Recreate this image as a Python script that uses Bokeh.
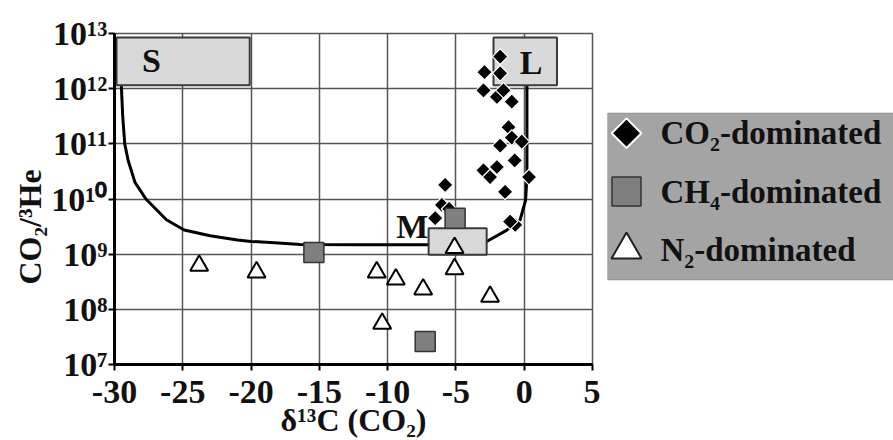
import numpy as np
from bokeh.plotting import figure
from bokeh.models import FixedTicker, Range1d, Title
from bokeh.layouts import row
from bokeh.core.properties import value
from bokeh.embed import file_html
from bokeh.resources import INLINE

FONT = "Liberation Serif"

# ---- axes ----
x_ticks = [-30, -25, -20, -15, -10, -5, 0, 5]
x_tick_labels = ["-30", "-25", "-20", "-15", "-10", "-5", "0", "5"]
y_ticks = [1e7, 1e8, 1e9, 1e10, 1e11, 1e12, 1e13]
y_tick_labels = ["10⁷", "10⁸", "10⁹", "10¹⁰", "10¹¹", "10¹²", "10¹³"]
x_title = "δ¹³C (CO₂)"
y_title = "CO₂/³He"

# ---- data (d13C of CO2, CO2/3He) ----
co2_d13c = [-1.76, -2.91, -1.76, -2.98, -2.0, -1.52, -0.91, -1.15, -0.91, -1.76, -0.18,
            -0.7, -2.98, -2.0, -2.5, 0.35, -1.4, -5.79, -6.03, -6.52, -5.5, -0.66, -1.03]
co2_ratio = [3.8e12, 2.0e12, 1.9e12, 9.3e11, 7.1e11, 9.3e11, 5.8e11, 2.0e11, 1.3e11, 9.3e10, 1.1e11,
             5.0e10, 3.3e10, 3.8e10, 2.5e10, 2.5e10, 1.35e10, 1.8e10, 7.8e9, 4.5e9, 6.6e9, 3.4e9, 3.9e9]

ch4_d13c = [-15.4, -5.06, -7.25]
ch4_ratio = [1.07e9, 4.5e9, 2.6e7]

n2_d13c = [-23.8, -19.6, -10.8, -9.4, -7.4, -5.1, -5.1, -2.5, -10.4]
n2_ratio = [6.2e8, 4.7e8, 4.7e8, 3.5e8, 2.3e8, 5.4e8, 1.3e9, 1.7e8, 5.5e7]

# mixing curves
curve_sm_d13c = [-29.5, -29.4, -29.25, -29.0, -28.5, -27.7, -26.2, -24.9, -23.0, -21.0, -20.0,
                 -18.0, -16.4, -12.0, -7.0]
curve_sm_ratio = [1.15e12, 3.2e11, 1.0e11, 5.0e10, 2.0e10, 1.0e10, 4.2e9, 2.75e9, 2.15e9, 1.8e9,
                  1.7e9, 1.6e9, 1.5e9, 1.48e9, 1.48e9]
curve_ml_d13c = [-2.75, -1.3, -0.3, 0.1, 0.2, 0.2]
curve_ml_ratio = [1.7e9, 2.7e9, 4.2e9, 9.5e9, 2.5e10, 1.15e12]

# end-member boxes
end_names = ["S", "M", "L"]
end_left = [-29.85, -7.0, -2.25]
end_right = [-20.1, -2.75, 2.4]
end_bottom = [1.15e12, 9.8e8, 1.15e12]
end_top = [8.5e12, 2.95e9, 8.5e12]
end_label_x = [-27.3, -8.2, 0.5]
end_label_y = [3.2e12, 3.2e9, 3.0e12]

legend_labels = ["CO₂-dominated", "CH₄-dominated", "N₂-dominated"]

# ---- main plot ----
BORDERS = dict(min_border_top=33, min_border_bottom=75)
p = figure(width=600, height=440, x_range=Range1d(-30, 5), y_range=Range1d(1e7, 1e13),
           y_axis_type="log", output_backend="svg", toolbar_location=None,
           min_border_left=114, min_border_right=8, **BORDERS)
p.background_fill_color = "white"
p.border_fill_color = "white"
p.outline_line_color = "#555555"
p.outline_line_width = 1.5

p.xaxis.ticker = FixedTicker(ticks=x_ticks)
p.xaxis.major_label_overrides = dict(zip(x_ticks, x_tick_labels))
p.yaxis.ticker = FixedTicker(ticks=y_ticks)
p.yaxis.major_label_overrides = dict(zip(y_ticks, y_tick_labels))
p.grid.grid_line_color = "#555555"
p.grid.grid_line_width = 1.5
for ax in (p.xaxis, p.yaxis):
    ax.axis_line_color = "black"
    ax.axis_line_width = 3
    ax.major_tick_line_color = "black"
    ax.major_tick_line_width = 2
    ax.major_tick_out = 6
    ax.major_tick_in = 0
    ax.minor_tick_out = 0
    ax.minor_tick_in = 0
    ax.major_label_text_font = FONT
    ax.major_label_text_font_style = "bold"
    ax.major_label_text_font_size = "34px"
    ax.major_label_text_color = "#111111"
p.xaxis.major_label_standoff = 10
p.yaxis.major_label_standoff = 1

p.xaxis.axis_label = x_title
p.xaxis.axis_label_text_font = FONT
p.xaxis.axis_label_text_font_style = "bold"
p.xaxis.axis_label_text_font_size = "32px"
p.xaxis.axis_label_text_color = "#111111"
p.xaxis.axis_label_standoff = -4

p.add_layout(Title(text=y_title, align="left", offset=80, standoff=2,
                   text_font=FONT, text_font_style="bold", text_font_size="32px",
                   text_color="#111111"), "left")

p.line(curve_sm_d13c, curve_sm_ratio, line_color="black", line_width=3)
p.line(curve_ml_d13c, curve_ml_ratio, line_color="black", line_width=3)
p.quad(left=end_left, right=end_right, bottom=end_bottom, top=end_top,
       fill_color="#d9d9d9", line_color="#3a3a3a", line_width=2)
p.text(x=end_label_x, y=end_label_y, text=end_names, text_font=value(FONT),
       text_font_style="bold", text_font_size="34px", text_align="center",
       text_baseline="middle", text_color="#111111")

p.scatter(co2_d13c, co2_ratio, marker="square", angle=np.pi / 4, size=11,
          fill_color="black", line_color="white", line_width=1.2)
p.scatter(ch4_d13c, ch4_ratio, marker="square", size=20,
          fill_color="#7f7f7f", line_color="#333333", line_width=1.5)
p.scatter(n2_d13c, n2_ratio, marker="triangle", size=18,
          fill_color="white", line_color="black", line_width=2)

# ---- legend panel ----
q = figure(width=293, height=440, x_range=Range1d(0, 286), y_range=Range1d(332, 0),
           output_backend="svg", toolbar_location=None, x_axis_location=None,
           y_axis_location=None, min_border_left=7, min_border_right=0, **BORDERS)
q.grid.visible = False
q.background_fill_color = "white"
q.border_fill_color = "white"
q.outline_line_color = None

q.quad(left=[0], right=[300], top=[80], bottom=[247],
       fill_color="#a4a4a4", line_color="#8a8a8a", line_width=1)
leg_y = [100 + 58.5 * i for i in range(len(legend_labels))]
q.scatter([19], [leg_y[0]], marker="square", angle=np.pi / 4, size=21,
          fill_color="black", line_color="white", line_width=2)
q.scatter([19], [leg_y[1]], marker="square", size=29,
          fill_color="#7f7f7f", line_color="#333333", line_width=1.5)
q.scatter([19], [leg_y[2]], marker="triangle", size=30,
          fill_color="white", line_color="#222222", line_width=2)
q.text(x=[53] * len(legend_labels), y=leg_y, text=legend_labels, text_font=value(FONT),
       text_font_style="bold", text_font_size="33px", text_align="left",
       text_baseline="middle", text_color="#111111")

layout = row(p, q)
open("out.html", "w").write(file_html(layout, INLINE))
